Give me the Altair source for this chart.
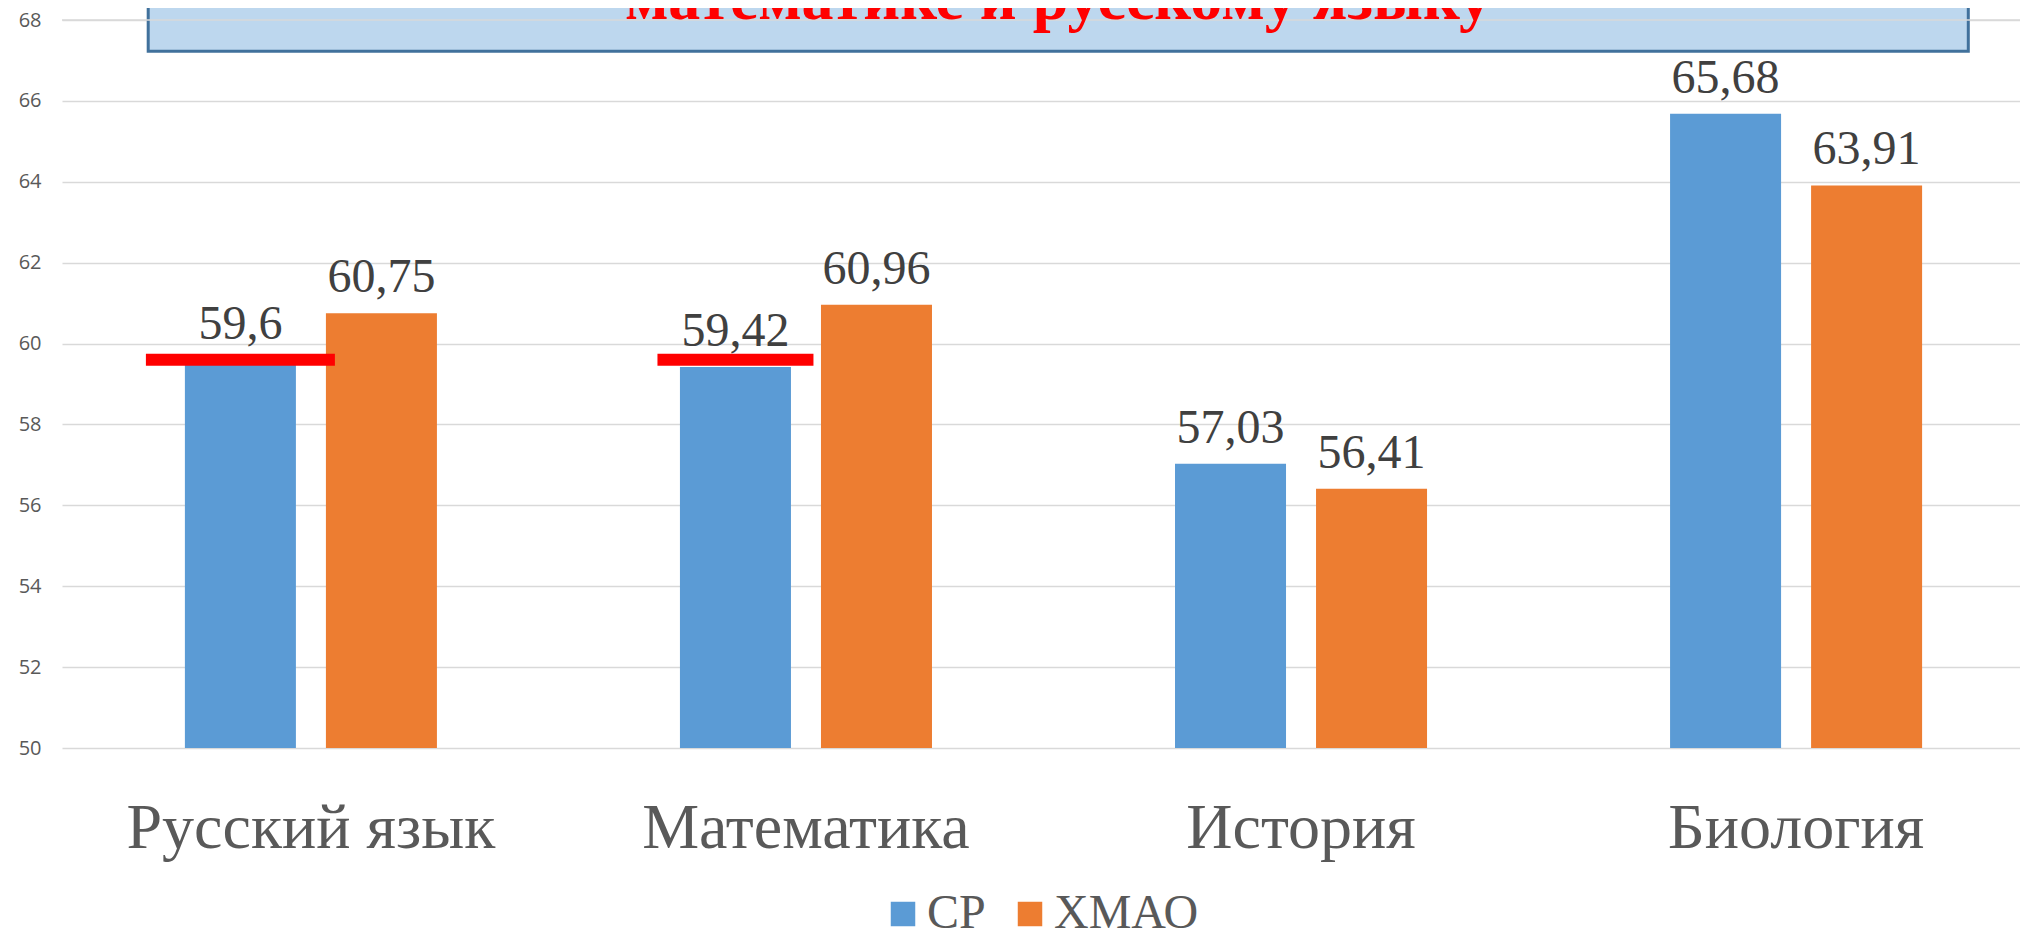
import altair as alt
import pandas as pd

# ---- data ----
categories = ["Русский язык", "Математика", "История", "Биология"]
series = ["СР", "ХМАО"]
sr_values = [59.6, 59.42, 57.03, 65.68]
hmao_values = [60.75, 60.96, 56.41, 63.91]
y_ticks = [50, 52, 54, 56, 58, 60, 62, 64, 66, 68]
marker_categories = ["Русский язык", "Математика"]
marker_values = [59.6, 59.6]
title_text = ["математике и русскому языку"]
colors = ["#5B9BD5", "#ED7D31"]

rows = []
for c, a, b in zip(categories, sr_values, hmao_values):
    rows.append({"cat": c, "series": series[0], "value": a})
    rows.append({"cat": c, "series": series[1], "value": b})
df = pd.DataFrame(rows)
df["label"] = df["value"].map(lambda v: f"{v:g}".replace(".", ","))

markers = pd.DataFrame({"cat": marker_categories, "series": series[0], "value": marker_values})
grid_top = pd.DataFrame({"v": [y_ticks[-1]]})
title_df = pd.DataFrame({"t": title_text})

W, H = 1958, 728

x_scale = alt.Scale(domain=categories, paddingInner=0.4909, paddingOuter=0.2230, align=0.5566)
xoff_scale = alt.Scale(domain=series, paddingInner=0.2128, paddingOuter=0)
y_scale = alt.Scale(domain=[y_ticks[0], y_ticks[-1]], nice=False, zero=False)
color_scale = alt.Scale(domain=series, range=colors)

x_enc = alt.X(
    "cat:N", scale=x_scale, sort=categories, title=None,
    axis=alt.Axis(labelFont="Liberation Serif", labelFontSize=64, labelColor="#595959",
                  labelPadding=99, labelBaseline="alphabetic", ticks=False, tickSize=0,
                  domain=False, labelAngle=0, labelLimit=2000, grid=False),
)
xoff_enc = alt.XOffset("series:N", scale=xoff_scale, sort=series)
y_enc = alt.Y(
    "value:Q", scale=y_scale, title=None,
    axis=alt.Axis(values=y_ticks, grid=True, gridColor="#D9D9D9", gridWidth=1.5,
                  domain=False, ticks=False, tickSize=0, labelFont="Open Sans",
                  labelFontSize=20, labelColor="#595959", labelPadding=21),
)

box = alt.Chart(title_df).mark_rect(fill="#BDD7EE", stroke="#41719C", strokeWidth=3).encode(
    x=alt.value(86.2), x2=alt.value(1906.3), y=alt.value(-40), y2=alt.value(31.3)
)

top_rule = alt.Chart(grid_top).mark_rule(color="#D9D9D9", strokeWidth=1.5).encode(
    y=alt.Y("v:Q", scale=y_scale, title=None), x=alt.value(0), x2=alt.value(W)
)

bars = alt.Chart(df).mark_bar().encode(
    x=x_enc, xOffset=xoff_enc, y=y_enc, y2=alt.datum(y_ticks[0]),
    color=alt.Color(
        "series:N", scale=color_scale, sort=series,
        legend=alt.Legend(orient="none", legendX=817, legendY=870, direction="horizontal",
                          title=None, symbolType="square", symbolSize=600, symbolStrokeWidth=0,
                          labelFont="Liberation Serif", labelFontSize=48, labelColor="#595959",
                          labelOffset=0, columnPadding=20, labelLimit=1000),
    ),
)

red1 = alt.Chart(markers[markers["cat"] == marker_categories[0]]).mark_tick(
    color="#FF0000", thickness=12, size=189, opacity=1
).encode(x=alt.X("cat:N", scale=x_scale, sort=categories), xOffset=xoff_enc, y=alt.Y("value:Q", scale=y_scale))

red2 = alt.Chart(markers[markers["cat"] == marker_categories[1]]).mark_tick(
    color="#FF0000", thickness=12, size=156, opacity=1
).encode(x=alt.X("cat:N", scale=x_scale, sort=categories), xOffset=xoff_enc, y=alt.Y("value:Q", scale=y_scale))

labels = alt.Chart(df).mark_text(
    baseline="alphabetic", align="center", dy=-21, font="Liberation Serif",
    fontSize=48, color="#404040"
).encode(x=alt.X("cat:N", scale=x_scale, sort=categories), xOffset=xoff_enc,
         y=alt.Y("value:Q", scale=y_scale), text="label:N")

title = alt.Chart(title_df).mark_text(
    font="Liberation Serif", fontWeight="bold", fontSize=64, color="#FF0000",
    baseline="alphabetic", align="center"
).encode(x=alt.value(996), y=alt.value(-1), text="t:N")

chart = alt.layer(box, top_rule, bars, red1, red2, labels, title).properties(
    width=W, height=H,
    padding={"left": 54, "top": 12, "right": 0, "bottom": 183},
    autosize=alt.AutoSizeParams(type="none"),
).configure_view(stroke=None)

chart.save("out.html", embed_options={"renderer": "svg", "actions": False})
